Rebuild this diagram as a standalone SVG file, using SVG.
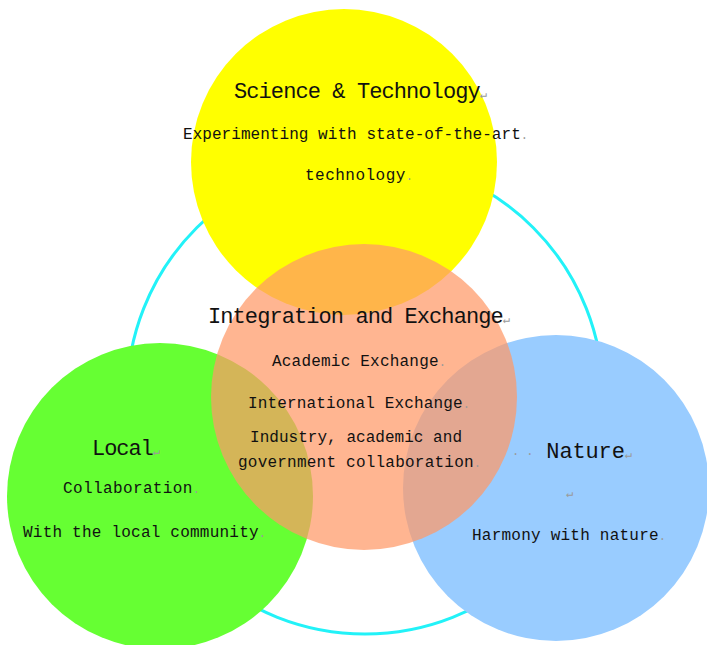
<svg xmlns="http://www.w3.org/2000/svg" width="707" height="645" viewBox="0 0 707 645">
<style>
.t{font-family:"Liberation Mono","DejaVu Sans Mono",monospace;fill:#111;}
.h{font-size:22px;}
.b{font-size:16px;}
.m{fill:#9a9a9a;font-size:12px;}
</style>
<rect width="707" height="645" fill="#ffffff"/>
<g id="ring">
<circle cx="365" cy="396" r="238" fill="none" stroke="#22f2f8" stroke-width="3"/>
</g>
<g id="node-science">
<circle cx="344" cy="162" r="153" fill="#ffff00"/>
<text class="t h" x="234" y="98" textLength="253" lengthAdjust="spacing">Science &amp; Technology<tspan class="m">↵</tspan></text>
<text class="t b" x="183" y="139" textLength="345" lengthAdjust="spacing">Experimenting with state-of-the-art<tspan class="m">.</tspan></text>
<text class="t b" x="305" y="180" textLength="108" lengthAdjust="spacing">technology<tspan class="m">.</tspan></text>
</g>
<g id="node-local">
<circle cx="160" cy="496" r="153" fill="#66ff33"/>
<text class="t h" x="92" y="455" textLength="68" lengthAdjust="spacing">Local<tspan class="m">↵</tspan></text>
<text class="t b" x="63" y="493" textLength="137" lengthAdjust="spacing">Collaboration<tspan class="m">.</tspan></text>
<text class="t b" x="23" y="537" textLength="243" lengthAdjust="spacing">With the local community<tspan class="m">.</tspan></text>
</g>
<g id="node-nature">
<circle cx="556" cy="488" r="153" fill="#99ccff"/>
<text class="t h" x="512" y="458" textLength="120" lengthAdjust="spacing"><tspan class="m">· ·</tspan> Nature<tspan class="m">↵</tspan></text>
<text class="t m" x="566" y="497">↵</text>
<text class="t b" x="472" y="540" textLength="194" lengthAdjust="spacing">Harmony with nature<tspan class="m">.</tspan></text>
</g>
<g id="node-integration">
<circle cx="364" cy="397" r="153" fill="#ff9966" fill-opacity="0.72"/>
<text class="t h" x="208" y="323" textLength="302" lengthAdjust="spacing">Integration and Exchange<tspan class="m">↵</tspan></text>
<text class="t b" x="272" y="366" textLength="174" lengthAdjust="spacing">Academic Exchange<tspan class="m">.</tspan></text>
<text class="t b" x="248" y="408" textLength="222" lengthAdjust="spacing">International Exchange<tspan class="m">.</tspan></text>
<text class="t b" x="250" y="442" textLength="212" lengthAdjust="spacing">Industry, academic and</text>
<text class="t b" x="238" y="467" textLength="243" lengthAdjust="spacing">government collaboration<tspan class="m">.</tspan></text>
</g>
</svg>
